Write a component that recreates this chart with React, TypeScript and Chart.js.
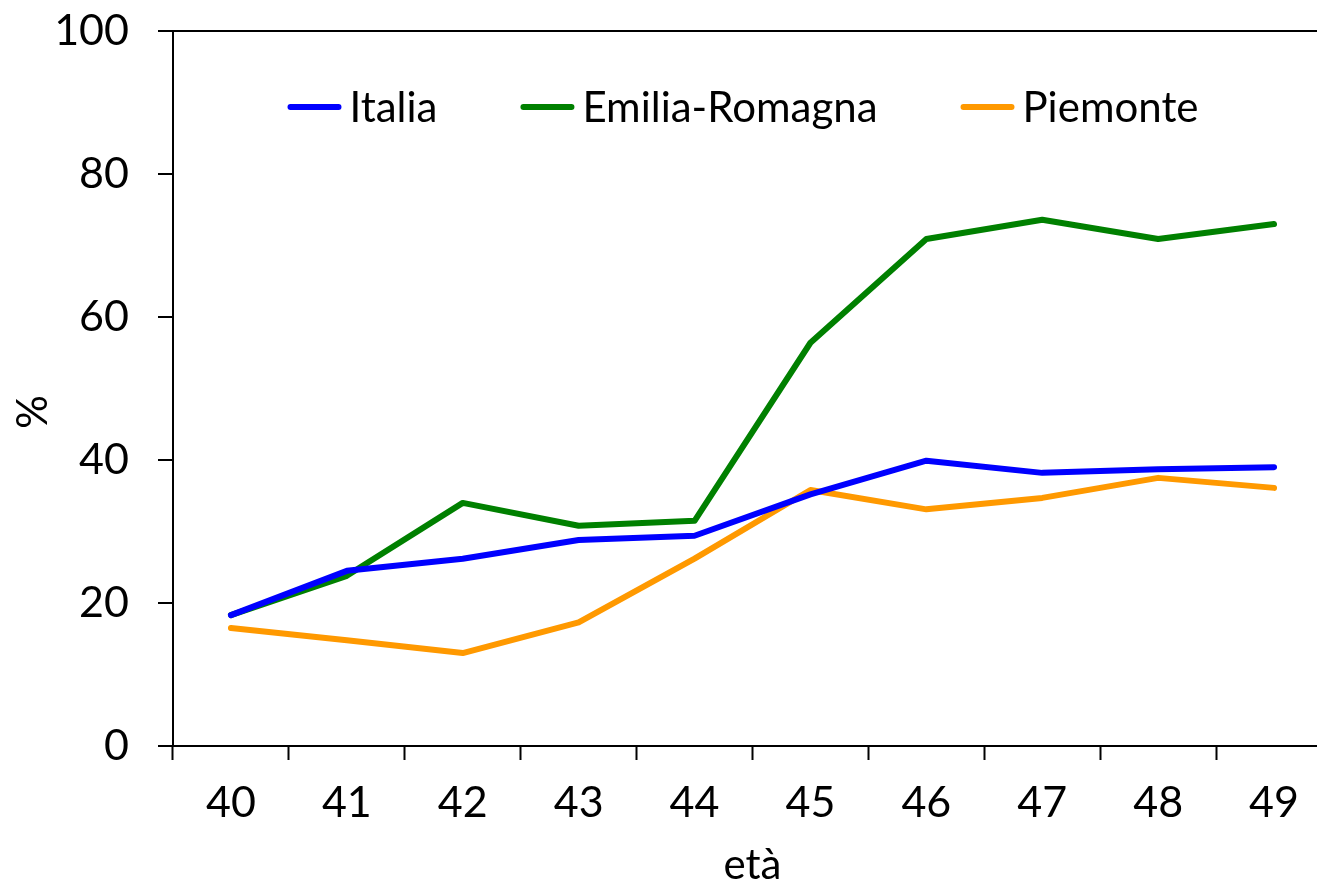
import React, { useEffect, useRef } from "react";
import { Chart, registerables } from "chart.js";

Chart.register(...registerables);

const categories = ["40", "41", "42", "43", "44", "45", "46", "47", "48", "49"];
const italia = [18.3, 24.5, 26.2, 28.8, 29.4, 35.2, 39.9, 38.2, 38.7, 39.0];
const emiliaRomagna = [18.3, 23.8, 34.0, 30.8, 31.5, 56.4, 70.9, 73.6, 70.9, 73.0];
const piemonte = [16.5, 14.8, 13.0, 17.3, 26.2, 35.8, 33.1, 34.7, 37.5, 36.1];
const seriesLabels = ["Italia", "Emilia-Romagna", "Piemonte"];
const seriesColors = ["#0000FF", "#008000", "#FF9900"];
const yTitle = "%";
const xTitle = "età";

const FONT = "Lato, 'DejaVu Sans', sans-serif";

const customLegend = {
  id: "customLegend",
  afterDraw(chart: any) {
    const ctx = chart.ctx;
    ctx.save();
    ctx.font = `42px ${FONT}`;
    ctx.textBaseline = "middle";
    ctx.textAlign = "left";
    const lineLen = 54;
    const gapLT = 8;
    const gapItems = 83;
    const items = chart.data.datasets.map((d: any) => ({
      label: d.label,
      color: d.borderColor,
      w: ctx.measureText(d.label).width,
    }));
    const total = items.reduce((s: number, it: any) => s + lineLen + gapLT + it.w, 0) + gapItems * (items.length - 1);
    let x = 743 - total / 2;
    const y = 107;
    for (const it of items) {
      ctx.strokeStyle = it.color;
      ctx.lineWidth = 6;
      ctx.lineCap = "round";
      ctx.beginPath();
      ctx.moveTo(x + 3, y);
      ctx.lineTo(x + lineLen - 3, y);
      ctx.stroke();
      ctx.fillStyle = "#000";
      ctx.fillText(it.label, x + lineLen + gapLT, y + 1);
      x += lineLen + gapLT + it.w + gapItems;
    }
    // y title
    ctx.save();
    ctx.translate(33, 412);
    ctx.rotate(-Math.PI / 2);
    ctx.textAlign = "center";
    ctx.fillText(yTitle, 0, 0);
    ctx.restore();
    ctx.restore();
  },
};

export default function App() {
  const ref = useRef<HTMLCanvasElement | null>(null);
  useEffect(() => {
    if (!ref.current) return;
    const chart = new Chart(ref.current, {
      type: "line",
      data: {
        labels: categories,
        datasets: [italia, emiliaRomagna, piemonte].map((data, i) => ({
          label: seriesLabels[i],
          data,
          borderColor: seriesColors[i],
          backgroundColor: seriesColors[i],
          borderWidth: 6,
          pointRadius: 0,
          tension: 0,
          borderCapStyle: "round" as const,
          borderJoinStyle: "round" as const,
        })),
      },
      options: {
        animation: false,
        responsive: false,
        maintainAspectRatio: false,
        layout: { padding: { top: 31, right: 0, left: 0, bottom: 0 } },
        plugins: { legend: { display: false }, tooltip: { enabled: false } },
        scales: {
          x: {
            type: "category",
            offset: true,
            grid: {
              offset: true,
              color: "rgba(0,0,0,0)",
              tickColor: "#000",
              tickLength: 14,
              tickWidth: 2,
              drawOnChartArea: false,
            },
            border: { color: "#000", width: 2 },
            ticks: { color: "#000", font: { family: FONT, size: 43 }, padding: 17, maxRotation: 0 },
            title: {
              display: true,
              text: xTitle,
              color: "#000",
              font: { family: FONT, size: 42 },
              padding: { top: 0, bottom: -6 },
            },
            afterFit: (s: any) => {
              s.height = 139;
              s.paddingLeft = 0;
              s.paddingRight = 0;
            },
          },
          y: {
            min: 0,
            max: 100,
            ticks: { stepSize: 20, color: "#000", font: { family: FONT, size: 43 }, padding: 29 },
            grid: {
              color: (c: any) => (c.tick && c.tick.value === 100 ? "#000" : "rgba(0,0,0,0)"),
              lineWidth: 2,
              tickColor: "#000",
              tickLength: 15,
              tickWidth: 2,
            },
            border: { color: "#000", width: 2 },
            afterFit: (s: any) => {
              s.width = 173;
              s.paddingTop = 0;
              s.paddingBottom = 0;
            },
          },
        },
      },
      plugins: [customLegend],
    });
    return () => chart.destroy();
  }, []);
  return (
    <div style={{ position: "absolute", left: 0, top: 0, width: 1317, height: 885, overflow: "hidden", background: "#fff" }}>
      <canvas ref={ref} width={1332} height={885} style={{ width: 1332, height: 885, display: "block" }} />
    </div>
  );
}
